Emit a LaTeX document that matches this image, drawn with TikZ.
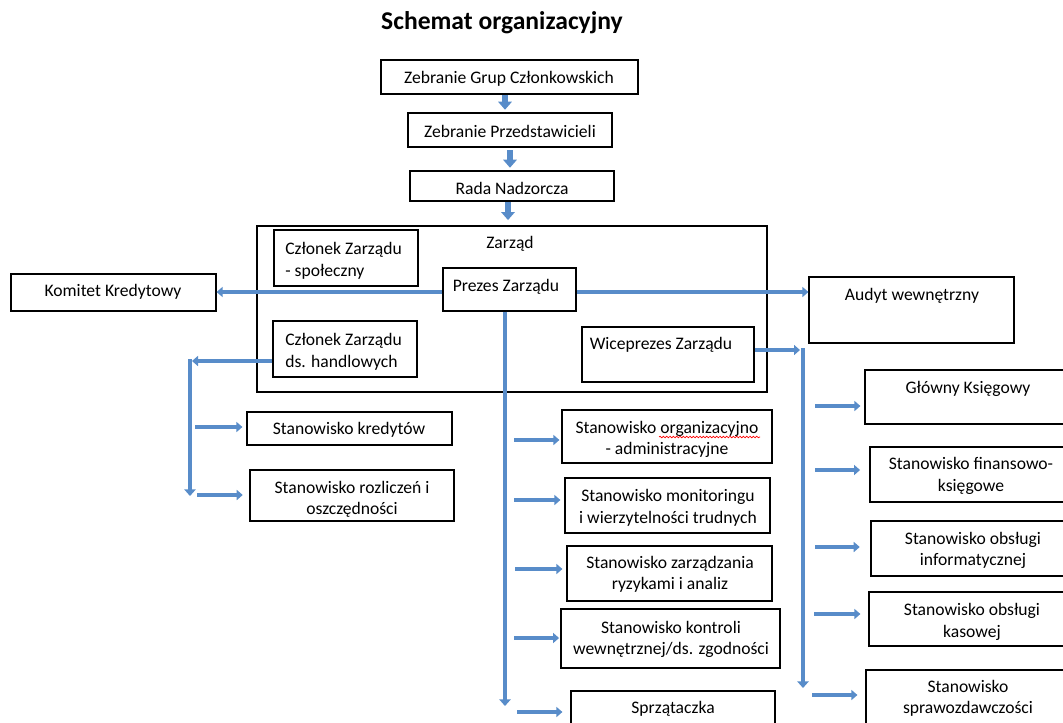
\documentclass[tikz,border=0pt]{standalone}
\usepackage{fontspec}
\setmainfont{Carlito}
\usetikzlibrary{arrows.meta,fit,decorations.pathmorphing}
\definecolor{conblue}{RGB}{88,140,201}
\begin{document}
\begin{tikzpicture}[x=0.75pt,y=-0.75pt,
  box/.style={draw=black,line width=0.9pt,inner sep=0pt},
  txt/.style={font=\fontsize{13.2}{16.2}\selectfont,align=center,inner sep=0pt,text=black,yshift=-1pt},
  con/.style={draw=conblue,line width=3pt,-{Triangle[length=4.5pt,width=7.5pt]}},
  bus/.style={draw=conblue,line width=3.6pt,-{Triangle[length=5pt,width=8.5pt]}},
  fat/.style={draw=conblue,line width=4.5pt,-{Triangle[length=6pt,width=10pt]}}]
\useasboundingbox (0,0) rectangle (1063,722);
\fill[white] (0,0) rectangle (1063,722);
\clip (0,0) rectangle (1063,722);

\node[font=\bfseries\fontsize{19.2}{22}\selectfont] (title) at (502,23) {Schemat organizacyjny};

% boxes
\node[box,fit={(381,60)(638,94)}] (zgc) {};
\node[box,fit={(408,113)(612,147)}] (zp) {};
\node[box,fit={(410,171)(614,201)}] (rn) {};
\node[box,fit={(257,226)(767,392)}] (zarzad) {};
\node[box,fit={(274,230)(418,286)}] (czs) {};
\node[box,fit={(443,268)(576,311)}] (prezes) {};
\node[box,fit={(273,321)(417,377)}] (czh) {};
\node[box,fit={(582,327)(754,382)}] (wice) {};
\node[box,fit={(11,274)(216,311)}] (komitet) {};
\node[box,fit={(809,277)(1014,343)}] (audyt) {};
\node[box,fit={(247,412)(452,445)}] (kred) {};
\node[box,fit={(250,470)(454,521)}] (rozl) {};
\node[box,fit={(562,410)(772,463)}] (org) {};
\node[box,fit={(565,478)(770,533)}] (mon) {};
\node[box,fit={(567,546)(772,601)}] (zarz) {};
\node[box,fit={(561,609)(780,668)}] (kontr) {};
\node[box,fit={(571,691)(775,745)}] (sprz) {};
\node[box,fit={(865,370)(1072,424)}] (glowny) {};
\node[box,fit={(870,447)(1075,502)}] (fin) {};
\node[box,fit={(871,521)(1075,576)}] (inf) {};
\node[box,fit={(869,592)(1075,646)}] (kas) {};
\node[box,fit={(866,670)(1072,745)}] (spraw) {};

% texts
\node[txt] (zgc-t) at (509,77) {Zebranie Grup Członkowskich};
\node[txt] (zp-t) at (510,130) {Zebranie Przedstawicieli};
\node[txt] (rn-t) at (512,187) {Rada Nadzorcza};
\node[txt] (zarzad-t) at (510,242) {Zarząd};
\node[txt,align=left,anchor=west] (czs-t) at (285,259.5) {Członek Zarządu\\- społeczny};
\node[txt] (prezes-t) at (506,285) {Prezes Zarządu};
\node[txt,align=left,anchor=west] (czh-t) at (285,350.5) {Członek Zarządu\\ds. handlowych};
\node[txt] (wice-t) at (661,343) {Wiceprezes Zarządu};
\node[txt] (komitet-t) at (113,290) {Komitet Kredytowy};
\node[txt] (audyt-t) at (912,294) {Audyt wewnętrzny};
\node[txt] (kred-t) at (349,428) {Stanowisko kredytów};
\node[txt] (rozl-t) at (352,498) {Stanowisko rozliczeń i\\oszczędności};
\node[txt] (org-t) at (667,438) {Stanowisko organizacyjno\\- administracyjne};
\node[txt] (mon-t) at (668,506.5) {Stanowisko monitoringu\\i wierzytelności trudnych};
\node[txt] (zarz-t) at (670,573) {Stanowisko zarządzania\\ryzykami i analiz};
\node[txt] (kontr-t) at (671,638) {Stanowisko kontroli\\wewnętrznej/ds. zgodności};
\node[txt] (sprz-t) at (673,707) {Sprzątaczka};
\node[txt] (glowny-t) at (968,388) {Główny Księgowy};
\node[txt] (fin-t) at (971,474.5) {Stanowisko finansowo-\\księgowe};
\node[txt] (inf-t) at (973,549) {Stanowisko obsługi\\informatycznej};
\node[txt] (kas-t) at (972,620.5) {Stanowisko obsługi\\kasowej};
\node[txt] (spraw-t) at (968,697) {Stanowisko\\sprawozdawczości};

% spell-check underline
\draw[red,line width=0.5pt,decorate,decoration={snake,amplitude=0.6pt,segment length=2.5pt}] (659,437) -- (760,437);

% top chain
\coordinate (ax1) at (505,0);
\coordinate (ax2) at (510,0);
\coordinate (ax3) at (508,0);
\draw[fat,shorten <=0.5pt,shorten >=2pt] (zgc.south -| ax1) -- (zp.north -| ax1);
\draw[fat,shorten <=2pt,shorten >=2pt] (zp.south -| ax2) -- (rn.north -| ax2);
\draw[fat,shorten <=0.5pt,shorten >=4pt] (rn.south -| ax3) -- (zarzad.north -| ax3);

% prezes
\coordinate (yk) at (0,292);
\draw[con] (prezes.west |- yk) -- (komitet.east |- yk);
\draw[con] (prezes.east |- yk) -- (audyt.west |- yk);
\coordinate (pd) at (505,706);
\draw[bus] (prezes.south -| pd) -- (pd);
\coordinate (m1) at (514,440);
\coordinate (m2) at (514,500);
\coordinate (m3) at (515,569);
\coordinate (m4) at (514,638);
\coordinate (m5) at (517,712);
\draw[con,shorten >=1.5pt] (m1) -- (m1 -| org.west);
\draw[con,shorten >=3pt] (m2) -- (m2 -| mon.west);
\draw[con,shorten >=3pt] (m3) -- (m3 -| zarz.west);
\draw[con,shorten >=1pt] (m4) -- (m4 -| kontr.west);
\draw[con,shorten >=6pt] (m5) -- (m5 -| sprz.west);

% left branch
\coordinate (lb) at (192,361);
\coordinate (lbt) at (190,359);
\coordinate (lbe) at (190,496);
\draw[con] (czh.west |- lb) -- (lb);
\draw[bus] (lbt) -- (lbe);
\coordinate (l1) at (195,427);
\coordinate (l2) at (197,495);
\draw[con,shorten >=3pt] (l1) -- (l1 -| kred.west);
\draw[con,shorten >=5pt] (l2) -- (l2 -| rozl.west);

% right branch
\coordinate (rb) at (800,350);
\coordinate (rbt) at (803,348);
\coordinate (rbe) at (803,688);
\draw[con] (wice.east |- rb) -- (rb);
\draw[bus] (rbt) -- (rbe);
\coordinate (r1) at (815,406);
\coordinate (r2) at (815,470);
\coordinate (r3) at (815,547);
\coordinate (r4) at (814,614);
\coordinate (r5) at (812,695);
\draw[con,shorten >=3pt] (r1) -- (r1 -| glowny.west);
\draw[con,shorten >=7pt] (r2) -- (r2 -| fin.west);
\draw[con,shorten >=8pt] (r3) -- (r3 -| inf.west);
\draw[con,shorten >=6pt] (r4) -- (r4 -| kas.west);
\draw[con,shorten >=6pt] (r5) -- (r5 -| spraw.west);
\end{tikzpicture}
\end{document}
